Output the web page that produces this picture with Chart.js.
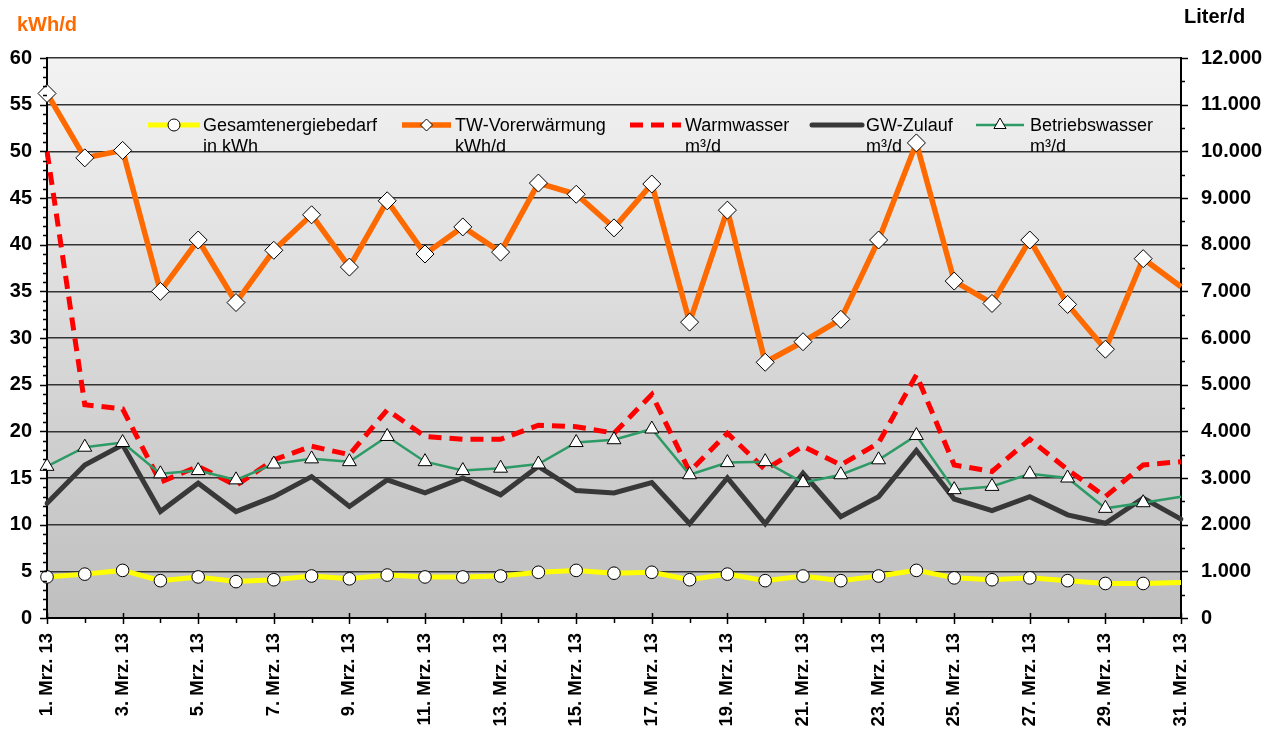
<!DOCTYPE html>
<html>
<head>
<meta charset="utf-8">
<script src="https://cdn.jsdelivr.net/npm/chart.js@4.4.1/dist/chart.umd.min.js"></script>
<style>
  html, body { margin: 0; padding: 0; background: #fff; }
  #wrap { width: 1284px; height: 738px; position: relative; }
</style>
</head>
<body>
<div id="wrap"><canvas id="chart"></canvas></div>
<script>
// Tage im März 2013
const tage = [
  '1. Mrz. 13', '2. Mrz. 13', '3. Mrz. 13', '4. Mrz. 13', '5. Mrz. 13', '6. Mrz. 13',
  '7. Mrz. 13', '8. Mrz. 13', '9. Mrz. 13', '10. Mrz. 13', '11. Mrz. 13', '12. Mrz. 13',
  '13. Mrz. 13', '14. Mrz. 13', '15. Mrz. 13', '16. Mrz. 13', '17. Mrz. 13', '18. Mrz. 13',
  '19. Mrz. 13', '20. Mrz. 13', '21. Mrz. 13', '22. Mrz. 13', '23. Mrz. 13', '24. Mrz. 13',
  '25. Mrz. 13', '26. Mrz. 13', '27. Mrz. 13', '28. Mrz. 13', '29. Mrz. 13', '30. Mrz. 13',
  '31. Mrz. 13'
];

// linke Achse (kWh/d)
const gesamtenergie = [4.4, 4.7, 5.1, 4.0, 4.4, 3.9, 4.1, 4.5, 4.2, 4.6, 4.4, 4.4, 4.5, 4.9, 5.1, 4.8,
  4.9, 4.1, 4.7, 4.0, 4.5, 4.0, 4.5, 5.1, 4.3, 4.1, 4.3, 4.0, 3.7, 3.7, 3.8];
const twVorerwaermung = [56.2, 49.3, 50.1, 35.0, 40.5, 33.8, 39.4, 43.2, 37.6, 44.7, 39.0, 41.9, 39.2,
  46.6, 45.4, 41.8, 46.5, 31.7, 43.7, 27.4, 29.6, 32.0, 40.5, 50.9, 36.1, 33.7, 40.5, 33.6, 28.8, 38.5, 35.5];

// rechte Achse (Liter/d)
const warmwasser = [10000, 4570, 4480, 2910, 3250, 2840, 3390, 3680, 3500, 4460, 3890, 3830, 3830, 4130,
  4100, 3960, 4790, 3140, 3960, 3180, 3680, 3280, 3750, 5210, 3280, 3140, 3830, 3180, 2600, 3280, 3350];
const gwZulauf = [2460, 3280, 3710, 2280, 2890, 2280, 2600, 3030, 2390, 2960, 2680, 3000, 2640, 3250,
  2730, 2680, 2900, 2020, 3000, 2020, 3100, 2170, 2600, 3590, 2550, 2300, 2600, 2210, 2030, 2570, 2120];
const betriebswasser = [3250, 3660, 3760, 3090, 3160, 2960, 3300, 3410, 3350, 3890, 3350, 3160, 3210,
  3300, 3760, 3820, 4050, 3070, 3330, 3350, 2900, 3070, 3390, 3910, 2750, 2820, 3090, 3000, 2350, 2470, 2600];

const linksTicks = { min: 0, max: 60, step: 5 };
const rechtsTicks = { min: 0, max: 12000, step: 1000 };

const schrift = 'Liberation Sans, Arial, sans-serif';
Chart.defaults.font.family = schrift;

const ohneLetzten = (r) => (ctx) => ctx.dataIndex === tage.length - 1 ? 0 : r;

const tausender = (v) => {
  const s = String(Math.round(v));
  return s.length > 3 ? s.slice(0, -3) + '.' + s.slice(-3) : s;
};

// Hintergrund der Zeichenfläche
const hintergrund = {
  id: 'hintergrund',
  beforeDraw(chart) {
    const { ctx, chartArea: a } = chart;
    const g = ctx.createLinearGradient(0, a.top, 0, a.bottom);
    g.addColorStop(0, '#f3f3f3');
    g.addColorStop(1, '#bfbfbf');
    ctx.save();
    ctx.fillStyle = g;
    ctx.fillRect(a.left, a.top, a.right - a.left, a.bottom - a.top);
    ctx.restore();
  }
};

// Legende innerhalb der Zeichenfläche
const legende = {
  id: 'legende',
  beforeDatasetsDraw(chart) {
    const { ctx } = chart;
    const eintraege = [
      { ds: 0, x0: 148, x1: 200, tx: 203, t: ['Gesamtenergiebedarf', 'in kWh'] },
      { ds: 1, x0: 402, x1: 451, tx: 455, t: ['TW-Vorerwärmung', 'kWh/d'] },
      { ds: 2, x0: 630, x1: 681, tx: 685, t: ['Warmwasser', 'm³/d'] },
      { ds: 3, x0: 812, x1: 862, tx: 866, t: ['GW-Zulauf', 'm³/d'] },
      { ds: 4, x0: 976, x1: 1024, tx: 1030, t: ['Betriebswasser', 'm³/d'] }
    ];
    const yl = 125;
    ctx.save();
    eintraege.forEach((e) => {
      const d = chart.data.datasets[e.ds];
      ctx.strokeStyle = d.borderColor;
      ctx.lineWidth = d.borderWidth;
      ctx.lineCap = d.borderCapStyle || 'butt';
      ctx.setLineDash(d.borderDash || []);
      ctx.beginPath();
      ctx.moveTo(e.x0, yl);
      ctx.lineTo(e.x1, yl);
      ctx.stroke();
      ctx.setLineDash([]);
      if (d.pointStyle && d.legendRadius) {
        ctx.fillStyle = '#fff';
        ctx.strokeStyle = '#000';
        ctx.lineWidth = 1;
        Chart.helpers.drawPoint(ctx, { pointStyle: d.pointStyle, radius: d.legendRadius, rotation: 0, borderWidth: 1 },
          (e.x0 + e.x1) / 2, yl);
      }
      ctx.fillStyle = '#000';
      ctx.font = '18px ' + schrift;
      ctx.textBaseline = 'middle';
      ctx.textAlign = 'left';
      ctx.fillText(e.t[0], e.tx, yl + 1);
      ctx.fillText(e.t[1], e.tx, yl + 22);
    });
    ctx.restore();
  }
};

// Teilstriche an den Achsen und Einheiten
const achsen = {
  id: 'achsen',
  afterDraw(chart) {
    const { ctx, chartArea: a, scales } = chart;
    ctx.save();
    ctx.strokeStyle = '#000';
    ctx.lineWidth = 1.5;
    ctx.beginPath();
    tage.forEach((t, i) => {
      const px = Math.round(scales.x.getPixelForValue(i)) + 0.5;
      if (i % 2 === 0) { ctx.moveTo(px, a.bottom - 5); ctx.lineTo(px, a.bottom + 6); }
      else { ctx.moveTo(px, a.bottom); ctx.lineTo(px, a.bottom + 5); }
    });
    for (let v = linksTicks.min; v <= linksTicks.max; v += 1) {
      const py = Math.round(scales.y.getPixelForValue(v)) + 0.5;
      const l = v % linksTicks.step === 0 ? 7 : 4;
      ctx.moveTo(a.left - l, py); ctx.lineTo(a.left, py);
    }
    for (let v = rechtsTicks.min; v <= rechtsTicks.max; v += rechtsTicks.step / 2) {
      const py = Math.round(scales.y1.getPixelForValue(v)) + 0.5;
      const l = v % rechtsTicks.step === 0 ? 7 : 4;
      ctx.moveTo(a.right, py); ctx.lineTo(a.right + l, py);
    }
    ctx.stroke();

    ctx.font = 'bold 20px ' + schrift;
    ctx.textBaseline = 'middle';
    ctx.fillStyle = '#ff6a00';
    ctx.textAlign = 'left';
    ctx.fillText('kWh/d', 17, 25);
    ctx.fillStyle = '#000';
    ctx.fillText('Liter/d', 1184, 17);
    ctx.restore();
  }
};

new Chart(document.getElementById('chart'), {
  type: 'line',
  data: {
    labels: tage,
    datasets: [
      {
        label: 'Gesamtenergiebedarf in kWh', data: gesamtenergie, yAxisID: 'y', order: 5,
        borderColor: '#ffff00', borderWidth: 5, pointStyle: 'circle', legendRadius: 6,
        pointRadius: ohneLetzten(6.3), pointBackgroundColor: '#fff', pointBorderColor: '#000', pointBorderWidth: 1
      },
      {
        label: 'TW-Vorerwärmung kWh/d', data: twVorerwaermung, yAxisID: 'y', order: 4,
        borderColor: '#ff6a00', borderWidth: 5.5, pointStyle: 'rectRot', legendRadius: 6,
        pointRadius: ohneLetzten(9), pointBackgroundColor: '#fff', pointBorderColor: '#000', pointBorderWidth: 1
      },
      {
        label: 'Warmwasser m³/d', data: warmwasser, yAxisID: 'y1', order: 3,
        borderColor: '#ff0000', borderWidth: 5, borderDash: [13, 8], pointRadius: 0
      },
      {
        label: 'GW-Zulauf m³/d', data: gwZulauf, yAxisID: 'y1', order: 2,
        borderColor: '#383838', borderWidth: 5, borderCapStyle: 'round', pointRadius: 0
      },
      {
        label: 'Betriebswasser m³/d', data: betriebswasser, yAxisID: 'y1', order: 1,
        borderColor: '#2e9a66', borderWidth: 2.5, pointStyle: 'triangle', legendRadius: 7,
        pointRadius: ohneLetzten(8), pointBackgroundColor: '#fff', pointBorderColor: '#000', pointBorderWidth: 1
      }
    ]
  },
  options: {
    responsive: true,
    maintainAspectRatio: false,
    animation: false,
    layout: { padding: { top: 58, left: 0, right: 0, bottom: 0 } },
    elements: { line: { tension: 0 } },
    plugins: { legend: { display: false }, tooltip: { enabled: false } },
    scales: {
      x: {
        ticks: {
          autoSkip: false, maxRotation: 90, minRotation: 90, padding: 15, color: '#000',
          font: { size: 18.5, weight: 'bold' },
          callback: (v, i) => (i % 2 === 0 ? tage[i] : '')
        },
        grid: { display: false, drawTicks: false },
        border: { color: '#000', width: 2 },
        afterFit: (s) => { s.height = 120; }
      },
      y: {
        position: 'left', min: linksTicks.min, max: linksTicks.max,
        ticks: { stepSize: linksTicks.step, padding: 15, color: '#000', font: { size: 20, weight: 'bold' } },
        grid: { color: '#333', lineWidth: 1.5, drawTicks: false },
        border: { color: '#000', width: 2 },
        afterFit: (s) => { s.width = 47; }
      },
      y1: {
        position: 'right', min: rechtsTicks.min, max: rechtsTicks.max,
        ticks: { stepSize: rechtsTicks.step, padding: 20, color: '#000', font: { size: 20, weight: 'bold' }, callback: tausender },
        grid: { display: false, drawTicks: false },
        border: { color: '#000', width: 2 },
        afterFit: (s) => { s.width = 103; }
      }
    }
  },
  plugins: [hintergrund, legende, achsen]
});
</script>
</body>
</html>
